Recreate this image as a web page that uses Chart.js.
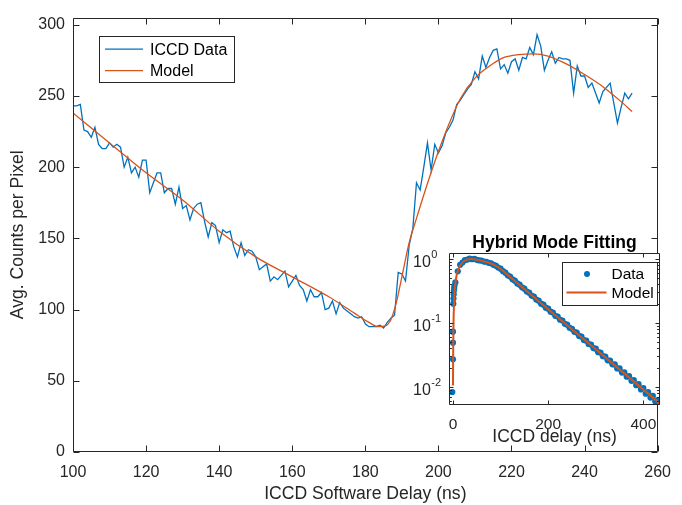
<!DOCTYPE html>
<html>
<head>
<meta charset="utf-8">
<script src="https://cdn.jsdelivr.net/npm/chart.js@4.4.0/dist/chart.umd.min.js"></script>
<style>
  html, body { margin: 0; padding: 0; background: #fff; }
  #wrap { position: relative; width: 682px; height: 505px; }
  #main { position: absolute; left: 0; top: 0; }
  #inset { position: absolute; left: 400px; top: 225px; }
</style>
</head>
<body>
<div id="wrap">
  <canvas id="main" width="682" height="505"></canvas>
  <canvas id="inset" width="282" height="235"></canvas>
</div>
<script>
// main plot: ICCD data, one sample per ns starting at 100 ns
const delayStart = 100;
const iccdData = [
  243, 243, 244, 226, 225, 221, 228, 216, 213, 213,
  217, 214, 216, 214, 200, 207, 196, 200, 193, 205,
  205, 182, 189, 196, 196, 182, 185, 185, 174, 186,
  171, 173, 163, 171, 174, 175, 162, 151, 161, 159,
  147, 156, 154, 155, 144, 137, 147, 138, 142, 141,
  137, 128, 130, 132, 120, 123, 121, 124, 127, 116,
  120, 124, 117, 114, 106, 114, 109, 109, 112, 100,
  101, 106, 97, 105, 101, 99, 97, 95, 94, 95,
  90, 88, 88, 88, 89, 87, 91, 94, 96, 126,
  125, 120, 145, 157, 189, 184, 200, 217, 198, 216,
  210, 215, 224, 228, 233, 244, 247, 251, 255, 258,
  267, 262, 278, 270, 277, 282, 283, 269, 272, 266,
  274, 276, 268, 277, 276, 284, 279, 293, 285, 268,
  275, 281, 273, 277, 276, 276, 275, 252, 271, 264,
  264, 256, 259, 252, 245, 253, 256, 259, 245, 231,
  242, 252, 248, 252
];
const modelDelay = [100, 110, 120, 130, 140, 150, 160, 170, 177, 181, 183.5, 185.5, 187, 188.5, 190, 192, 194, 197, 200, 203, 206, 210, 214, 218, 222, 226, 230, 235, 240, 245, 250, 253];
const modelCounts = [238, 217, 196, 177, 155, 137, 123, 109, 97.5, 91, 88, 88.5, 93, 105, 123, 147, 164, 188.5, 211, 231, 248, 262.5, 271, 277, 279, 279.5, 278, 272.5, 265, 256.5, 246, 239];
const mainXTicks = [100, 120, 140, 160, 180, 200, 220, 240, 260];
const mainYTicks = [0, 50, 100, 150, 200, 250, 300];

// inset: hybrid mode fitting (normalised, log scale)
const insetDataDelay = [
  -1.5, 0, 0, 0, 0.7, 1, 1.5, 2, 2.5, 3,
  5, 10, 15, 20, 25, 30, 35, 40, 45, 50,
  55, 60, 65, 70, 75, 80, 85, 90, 95, 100,
  105, 110, 115, 120, 125, 130, 135, 140, 145, 150,
  155, 160, 165, 170, 175, 180, 185, 190, 195, 200,
  205, 210, 215, 220, 225, 230, 235, 240, 245, 250,
  255, 260, 265, 270, 275, 280, 285, 290, 295, 300,
  305, 310, 315, 320, 325, 330, 335, 340, 345, 350,
  355, 360, 365, 370, 375, 380, 385, 390, 395, 400,
  405, 410, 415, 420, 425, 430, 435, 440
];
const insetDataValue = [
  0.0083, 0.027, 0.049, 0.073, 0.2, 0.24, 0.28, 0.32, 0.35, 0.38,
  0.43, 0.64, 0.81, 0.88, 0.96, 0.98, 1.01, 0.99, 1.0, 0.97,
  0.95, 0.945, 0.91, 0.905, 0.87, 0.855, 0.81, 0.785, 0.735, 0.705,
  0.645, 0.61, 0.555, 0.53, 0.48, 0.457, 0.415, 0.396, 0.36, 0.343,
  0.31, 0.297, 0.268, 0.258, 0.232, 0.223, 0.2, 0.193, 0.173, 0.167,
  0.15, 0.145, 0.129, 0.126, 0.112, 0.109, 0.097, 0.094, 0.084, 0.081,
  0.0725, 0.0705, 0.0625, 0.061, 0.054, 0.0528, 0.0468, 0.0458, 0.0404, 0.0395,
  0.0349, 0.0343, 0.0302, 0.0297, 0.026, 0.0258, 0.0225, 0.0224, 0.0194, 0.0194,
  0.0167, 0.0169, 0.0144, 0.0147, 0.0124, 0.0127, 0.0106, 0.011, 0.0091, 0.0096,
  0.0078, 0.0083, 0.0068, 0.0072, 0.0059, 0.0062, 0.0051, 0.0054
];
const insetModelDelay = [0, 0.3, 1, 2, 3, 4, 6, 8, 11, 15, 20, 25, 30, 35, 40, 45, 50, 60, 70, 80, 90, 100, 120, 200, 300, 440];
const insetModelValue = [0.0105, 0.03, 0.09, 0.19, 0.28, 0.35, 0.47, 0.57, 0.68, 0.79, 0.885, 0.945, 0.98, 0.997, 1.0, 0.99, 0.975, 0.94, 0.9, 0.85, 0.78, 0.7, 0.524, 0.164, 0.0386, 0.00508];
const insetXTicks = [0, 200, 400];
const insetYTicks = [0.01, 0.1, 1];

const BLUE = '#0072BD';
const RED = '#D95319';
const AXIS = '#262626';
const FONT = '"Liberation Sans", Arial, Helvetica, sans-serif';
Chart.defaults.font.family = FONT;
Chart.defaults.color = AXIS;

function toPoints(xs, ys) {
  return xs.map((x, i) => ({ x, y: ys[i] }));
}

// box round the axes with ticks pointing inward, like matlab
function framePlugin(cfg) {
  return {
    id: 'frame',
    beforeDatasetsDraw(chart) {
      if (!cfg.fill) return;
      const a = chart.chartArea, ctx = chart.ctx;
      ctx.save();
      ctx.fillStyle = '#fff';
      ctx.fillRect(a.left, a.top, a.right - a.left, a.bottom - a.top);
      ctx.restore();
    },
    afterDraw(chart) {
      const { ctx, chartArea: a, scales: { x, y } } = chart;
      const L = Math.round(a.left) + 0.5, R = Math.round(a.right) - 0.5;
      const T = Math.round(a.top) + 0.5, B = Math.round(a.bottom) - 0.5;
      ctx.save();
      ctx.strokeStyle = AXIS;
      ctx.lineWidth = 1;
      ctx.beginPath();
      ctx.rect(L, T, R - L, B - T);
      cfg.xTicks.forEach(v => {
        const px = Math.round(x.getPixelForValue(v)) + 0.5;
        ctx.moveTo(px, B); ctx.lineTo(px, B - cfg.len);
        ctx.moveTo(px, T); ctx.lineTo(px, T + cfg.len);
      });
      cfg.yTicks.forEach(v => {
        const py = Math.round(y.getPixelForValue(v)) + 0.5;
        ctx.moveTo(L, py); ctx.lineTo(L + cfg.len, py);
        ctx.moveTo(R, py); ctx.lineTo(R - cfg.len, py);
      });
      if (cfg.logMinor) {
        for (let k = -3; k <= 0; k++) {
          for (let m = 2; m <= 9; m++) {
            const v = m * Math.pow(10, k);
            if (v < y.min || v > y.max) continue;
            const py = Math.round(y.getPixelForValue(v)) + 0.5;
            ctx.moveTo(L, py); ctx.lineTo(L + cfg.len * 0.6, py);
            ctx.moveTo(R, py); ctx.lineTo(R - cfg.len * 0.6, py);
          }
        }
      }
      ctx.stroke();
      if (cfg.after) cfg.after(chart, ctx, a);
      ctx.restore();
    }
  };
}

function drawLegend(ctx, chart, box) {
  ctx.fillStyle = '#fff';
  ctx.fillRect(box.x, box.y, box.w, box.h);
  ctx.strokeStyle = AXIS;
  ctx.lineWidth = 1;
  ctx.strokeRect(Math.round(box.x) + 0.5, Math.round(box.y) + 0.5, box.w, box.h);
  ctx.font = box.size + 'px ' + FONT;
  ctx.textAlign = 'left';
  ctx.textBaseline = 'middle';
  chart.data.datasets.forEach((ds, i) => {
    const ry = box.y + box.rows[i];
    if (chart.config.type === 'scatter' && !ds.showLine) {
      ctx.fillStyle = ds.backgroundColor;
      ctx.beginPath();
      ctx.arc(box.x + box.dot, ry, 3, 0, Math.PI * 2);
      ctx.fill();
    } else {
      ctx.strokeStyle = ds.borderColor;
      ctx.lineWidth = ds.borderWidth;
      ctx.beginPath();
      ctx.moveTo(box.x + box.line[0], ry);
      ctx.lineTo(box.x + box.line[1], ry);
      ctx.stroke();
    }
    ctx.fillStyle = '#000';
    ctx.fillText(ds.label, box.x + box.text, ry + 1);
  });
}

new Chart(document.getElementById('main'), {
  type: 'line',
  data: {
    datasets: [
      {
        label: 'ICCD Data',
        data: iccdData.map((v, i) => ({ x: delayStart + i, y: v })),
        borderColor: BLUE, borderWidth: 1.3, pointRadius: 0, tension: 0, order: 1
      },
      {
        label: 'Model',
        data: toPoints(modelDelay, modelCounts),
        borderColor: RED, borderWidth: 1.3, pointRadius: 0,
        cubicInterpolationMode: 'monotone', order: 0
      }
    ]
  },
  options: {
    responsive: false,
    animation: false,
    layout: { padding: { left: 0, right: 19, top: 14, bottom: 0 } },
    plugins: { legend: { display: false }, tooltip: { enabled: false } },
    scales: {
      x: {
        type: 'linear', min: 100, max: 260,
        afterBuildTicks: s => { s.ticks = mainXTicks.map(v => ({ value: v })); },
        afterFit: s => { s.height = 53; },
        grid: { display: false, drawTicks: false },
        border: { display: false },
        ticks: { color: AXIS, font: { size: 16 }, padding: 11, autoSkip: false, maxRotation: 0 },
        title: { display: true, text: 'ICCD Software Delay (ns)', color: AXIS, font: { size: 17.6 }, padding: { top: 0, bottom: 0 } }
      },
      y: {
        type: 'linear', min: 0, max: 305,
        afterBuildTicks: s => { s.ticks = mainYTicks.map(v => ({ value: v })); },
        afterFit: s => { s.width = 73; },
        grid: { display: false, drawTicks: false },
        border: { display: false },
        ticks: { color: AXIS, font: { size: 16 }, padding: 8 },
        title: { display: true, text: 'Avg. Counts per Pixel', color: AXIS, font: { size: 17.6 }, padding: { top: 7.5, bottom: 0 } }
      }
    }
  },
  plugins: [framePlugin({
    xTicks: mainXTicks, yTicks: mainYTicks, len: 6,
    after: (chart, ctx, a) => {
      drawLegend(ctx, chart, {
        x: a.left + 26, y: a.top + 18, w: 135, h: 46, size: 16,
        rows: [13.5, 35], line: [6, 44], text: 51
      });
    }
  })]
});

new Chart(document.getElementById('inset'), {
  type: 'scatter',
  data: {
    datasets: [
      {
        label: 'Data',
        data: toPoints(insetDataDelay, insetDataValue),
        backgroundColor: BLUE, borderColor: BLUE, borderWidth: 0,
        pointRadius: 3.1, showLine: false, order: 1
      },
      {
        label: 'Model',
        data: toPoints(insetModelDelay, insetModelValue),
        showLine: true, borderColor: RED, borderWidth: 2, pointRadius: 0,
        cubicInterpolationMode: 'monotone', order: 0
      }
    ]
  },
  options: {
    responsive: false,
    animation: false,
    layout: { padding: { left: 0, right: 22, top: 28, bottom: 0 } },
    plugins: { legend: { display: false }, tooltip: { enabled: false } },
    scales: {
      x: {
        type: 'linear', min: -8.4, max: 435,
        afterBuildTicks: s => { s.ticks = insetXTicks.map(v => ({ value: v })); },
        afterFit: s => { s.height = 55; },
        grid: { display: false, drawTicks: false },
        border: { display: false },
        ticks: { color: AXIS, font: { size: 15.5 }, padding: 10, autoSkip: false, maxRotation: 0 },
        title: { display: true, text: 'ICCD delay (ns)', color: AXIS, font: { size: 17.5 }, padding: { top: 0, bottom: 12.5 } }
      },
      y: {
        type: 'logarithmic', min: 0.0052, max: 1.24,
        afterBuildTicks: s => { s.ticks = insetYTicks.map(v => ({ value: v })); },
        afterFit: s => { s.width = 49; },
        grid: { display: false, drawTicks: false },
        border: { display: false },
        ticks: { display: false }
      }
    }
  },
  plugins: [framePlugin({
    xTicks: insetXTicks, yTicks: insetYTicks, len: 4, logMinor: true, fill: true,
    after: (chart, ctx, a) => {
      // powers of ten with raised exponent
      const y = chart.scales.y;
      ctx.fillStyle = AXIS;
      ctx.textBaseline = 'middle';
      ctx.textAlign = 'left';
      insetYTicks.forEach(v => {
        const py = y.getPixelForValue(v);
        const exp = String(Math.round(Math.log10(v)));
        ctx.font = '16px ' + FONT;
        const bx = a.left - 36;
        ctx.fillText('10', bx, py + 4);
        const w = ctx.measureText('10').width;
        ctx.font = '11px ' + FONT;
        ctx.fillText(exp, bx + w + 0.5, py - 4);
      });
      ctx.fillStyle = '#000';
      ctx.font = 'bold 17.5px ' + FONT;
      ctx.textAlign = 'center';
      ctx.fillText('Hybrid Mode Fitting', (a.left + a.right) / 2, a.top - 10);
      drawLegend(ctx, chart, {
        x: a.left + 112.5, y: a.top + 8.5, w: 95, h: 43, size: 15.5,
        rows: [12.5, 31], line: [5, 45], dot: 25.5, text: 50
      });
    }
  })]
});
</script>
</body>
</html>
